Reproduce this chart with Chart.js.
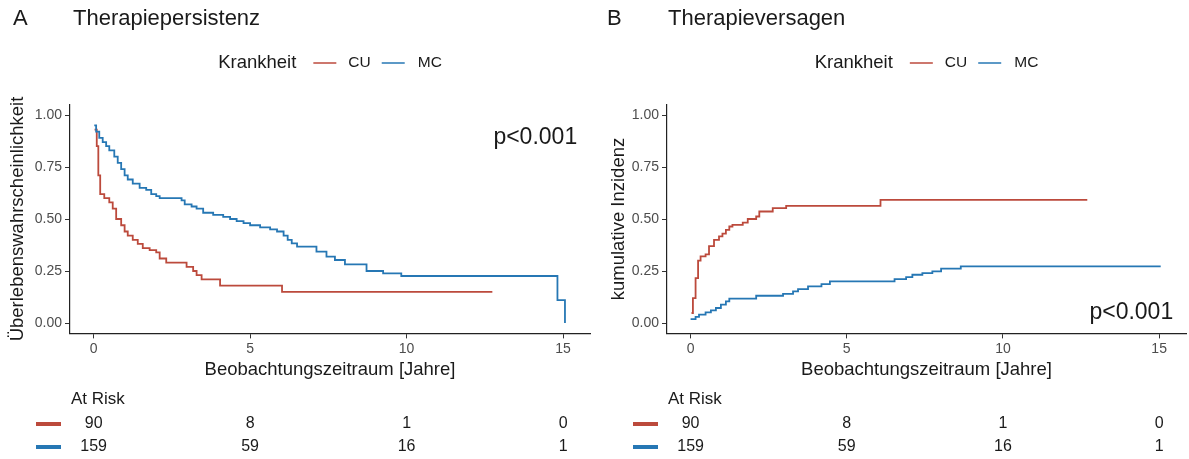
<!DOCTYPE html>
<html>
<head>
<meta charset="utf-8">
<script src="https://cdn.jsdelivr.net/npm/chart.js@4/dist/chart.umd.min.js"></script>
<style>
  body { margin: 0; background: #fff; }
  #wrap { position: relative; width: 1189px; height: 459px; }
  canvas { position: absolute; top: 0; }
</style>
</head>
<body>
<div id="wrap">
  <canvas id="chartA" width="595" height="459" style="left:0"></canvas>
  <canvas id="chartB" width="594" height="459" style="left:595px"></canvas>
</div>
<script>
const FONT = '"Liberation Sans", Arial, sans-serif';

const groups = ['CU', 'MC'];
const colCU = '#BC4A3C';
const colMC = '#2677B4';

const xTicks = [0, 5, 10, 15];
const yTicks = [0, 0.25, 0.5, 0.75, 1];

// A: Therapiepersistenz (Kaplan-Meier)
const persCU_t = [0.03, 0.10, 0.15, 0.21, 0.34, 0.50, 0.61, 0.72, 0.88, 0.99, 1.09, 1.25, 1.41, 1.57, 1.79, 2.00, 2.11, 2.32, 2.97, 3.18, 3.29, 3.45, 4.04, 6.02, 12.74];
const persCU_s = [0.93, 0.85, 0.71, 0.62, 0.60, 0.58, 0.55, 0.50, 0.47, 0.44, 0.42, 0.40, 0.38, 0.36, 0.35, 0.34, 0.31, 0.29, 0.27, 0.25, 0.23, 0.21, 0.18, 0.15, 0.15];
const persMC_t = [0.02, 0.08, 0.18, 0.29, 0.40, 0.50, 0.66, 0.77, 0.88, 0.99, 1.09, 1.25, 1.47, 1.68, 1.84, 2.00, 2.11, 2.81, 2.91, 3.13, 3.29, 3.50, 3.82, 4.14, 4.36, 4.57, 4.79, 5.00, 5.32, 5.64, 5.86, 6.07, 6.20, 6.33, 6.50, 7.12, 7.44, 7.71, 8.03, 8.72, 9.25, 9.83, 14.82, 15.06];
const persMC_s = [0.95, 0.92, 0.89, 0.87, 0.85, 0.83, 0.80, 0.77, 0.74, 0.71, 0.69, 0.67, 0.65, 0.64, 0.62, 0.61, 0.60, 0.59, 0.57, 0.56, 0.55, 0.53, 0.52, 0.51, 0.50, 0.49, 0.48, 0.47, 0.46, 0.45, 0.44, 0.42, 0.40, 0.383, 0.367, 0.343, 0.319, 0.303, 0.282, 0.25, 0.239, 0.226, 0.11, 0.0];

// B: Therapieversagen (kumulative Inzidenz)
const failCU_t = [0.03, 0.075, 0.16, 0.24, 0.32, 0.48, 0.59, 0.75, 0.91, 1.02, 1.13, 1.24, 1.34, 1.67, 1.83, 2.10, 2.20, 2.63, 3.06, 6.08, 12.70];
const failCU_c = [0.048, 0.12, 0.216, 0.30, 0.32, 0.33, 0.37, 0.40, 0.416, 0.43, 0.448, 0.464, 0.472, 0.483, 0.50, 0.512, 0.536, 0.552, 0.563, 0.592, 0.592];
const failMC_t = [0.00, 0.16, 0.27, 0.48, 0.65, 0.81, 0.97, 1.13, 1.24, 2.10, 2.96, 3.28, 3.44, 3.76, 4.19, 4.46, 6.53, 6.90, 7.10, 7.42, 7.74, 8.02, 8.65, 15.05];
const failMC_c = [0.019, 0.029, 0.040, 0.051, 0.061, 0.072, 0.088, 0.104, 0.117, 0.131, 0.140, 0.152, 0.163, 0.176, 0.187, 0.200, 0.211, 0.221, 0.232, 0.240, 0.248, 0.261, 0.272, 0.272];

// number at risk
const riskTimes = [0, 5, 10, 15];
const riskCU = [90, 8, 1, 0];
const riskMC = [159, 59, 16, 1];

function pts(t, v) {
  return t.map((tt, i) => ({ x: tt, y: v[i] }));
}

// titles, legend, p value and risk table
const panelDecor = {
  id: 'panelDecor',
  afterDraw(chart, args, o) {
    const { ctx, chartArea } = chart;
    const x = chart.scales.x, y = chart.scales.y;
    ctx.save();
    ctx.fillStyle = '#1a1a1a';
    ctx.textBaseline = 'middle';
    ctx.textAlign = 'left';
    ctx.font = '22px ' + FONT;
    ctx.fillText(o.tag, o.tagX, 19);
    ctx.fillText(o.title, o.titleX, 19);

    // legend
    ctx.font = '18.5px ' + FONT;
    const headW = ctx.measureText('Krankheit').width;
    ctx.font = '15.5px ' + FONT;
    const w0 = ctx.measureText(groups[0]).width;
    const w1 = ctx.measureText(groups[1]).width;
    const key = 23;
    const total = headW + 17 + key + 12 + w0 + 11 + key + 13 + w1;
    let lx = (chartArea.left + chartArea.right) / 2 - total / 2;
    const ly = 63;
    ctx.font = '18.5px ' + FONT;
    ctx.fillText('Krankheit', lx, ly);
    lx += headW + 17;
    ctx.lineWidth = 1.5;
    ctx.strokeStyle = colCU;
    ctx.beginPath(); ctx.moveTo(lx, ly); ctx.lineTo(lx + key, ly); ctx.stroke();
    lx += key + 12;
    ctx.font = '15.5px ' + FONT;
    ctx.fillText(groups[0], lx, ly);
    lx += w0 + 11;
    ctx.strokeStyle = colMC;
    ctx.beginPath(); ctx.moveTo(lx, ly); ctx.lineTo(lx + key, ly); ctx.stroke();
    lx += key + 13;
    ctx.fillText(groups[1], lx, ly);

    // p value
    ctx.font = '23px ' + FONT;
    ctx.textAlign = 'right';
    ctx.fillText('p<0.001', x.getPixelForValue(o.pX), y.getPixelForValue(o.pY));

    // risk table
    ctx.textAlign = 'left';
    ctx.font = '17px ' + FONT;
    ctx.fillText('At Risk', o.riskX, 399);
    const rows = [[riskCU, colCU, 424], [riskMC, colMC, 447]];
    rows.forEach(([vals, col, ry]) => {
      ctx.strokeStyle = col;
      ctx.lineWidth = 4;
      ctx.beginPath(); ctx.moveTo(o.barX, ry); ctx.lineTo(o.barX + 25, ry); ctx.stroke();
      ctx.font = '16px ' + FONT;
      ctx.textAlign = 'center';
      vals.forEach((v, i) => {
        ctx.fillText(String(v), x.getPixelForValue(riskTimes[i]), ry);
      });
      ctx.textAlign = 'left';
    });
    ctx.restore();
  }
};

function makePanel(id, p) {
  return new Chart(document.getElementById(id), {
    type: 'line',
    data: {
      datasets: [
        { label: groups[0], data: pts(p.tCU, p.vCU), borderColor: colCU, order: 1 },
        { label: groups[1], data: pts(p.tMC, p.vMC), borderColor: colMC, order: 0 }
      ]
    },
    options: {
      responsive: false,
      animation: false,
      parsing: false,
      elements: {
        line: { stepped: 'before', borderWidth: 1.8, fill: false, tension: 0 },
        point: { radius: 0, hoverRadius: 0 }
      },
      layout: { padding: { top: 104.6, left: 0, right: p.padRight, bottom: 77.9 } },
      plugins: {
        legend: { display: false },
        tooltip: { enabled: false },
        panelDecor: p.decor
      },
      scales: {
        x: {
          type: 'linear',
          min: -0.755,
          max: 15.86,
          afterBuildTicks: (s) => { s.ticks = xTicks.map(v => ({ value: v })); },
          afterFit: (s) => { s.height = 47.7; },
          grid: { drawOnChartArea: false, drawTicks: true, tickLength: 5, tickColor: '#333', tickWidth: 1 },
          border: { display: true, color: '#222', width: 1.2 },
          ticks: { color: '#4d4d4d', font: { family: FONT, size: 14 }, padding: 2, maxRotation: 0 },
          title: { display: true, text: 'Beobachtungszeitraum [Jahre]', color: '#1a1a1a', font: { family: FONT, size: 18.5 }, padding: { top: 0, bottom: 0 } }
        },
        y: {
          type: 'linear',
          min: -0.05,
          max: 1.05,
          afterBuildTicks: (s) => { s.ticks = yTicks.map(v => ({ value: v })); },
          afterFit: (s) => { s.width = p.yWidth; },
          grid: { drawOnChartArea: false, drawTicks: true, tickLength: 5, tickColor: '#333', tickWidth: 1 },
          border: { display: true, color: '#222', width: 1.2 },
          ticks: { color: '#4d4d4d', font: { family: FONT, size: 14 }, padding: 3, callback: (v) => Number(v).toFixed(2) },
          title: { display: true, text: p.yTitle, color: '#1a1a1a', font: { family: FONT, size: 18.5 }, padding: { top: p.yTitlePad, bottom: 0 } }
        }
      }
    },
    plugins: [panelDecor]
  });
}

makePanel('chartA', {
  tCU: persCU_t, vCU: persCU_s, tMC: persMC_t, vMC: persMC_s,
  yTitle: 'Überlebenswahrscheinlichkeit', yTitlePad: 7, yWidth: 70, padRight: 5,
  decor: { tag: 'A', tagX: 13, title: 'Therapiepersistenz', titleX: 73, pX: 15.45, pY: 0.89, riskX: 71, barX: 36 }
});

makePanel('chartB', {
  tCU: failCU_t, vCU: failCU_c, tMC: failMC_t, vMC: failMC_c,
  yTitle: 'kumulative Inzidenz', yTitlePad: 13, yWidth: 72, padRight: 3,
  decor: { tag: 'B', tagX: 12, title: 'Therapieversagen', titleX: 73, pX: 15.45, pY: 0.05, riskX: 73, barX: 38 }
});
</script>
</body>
</html>
